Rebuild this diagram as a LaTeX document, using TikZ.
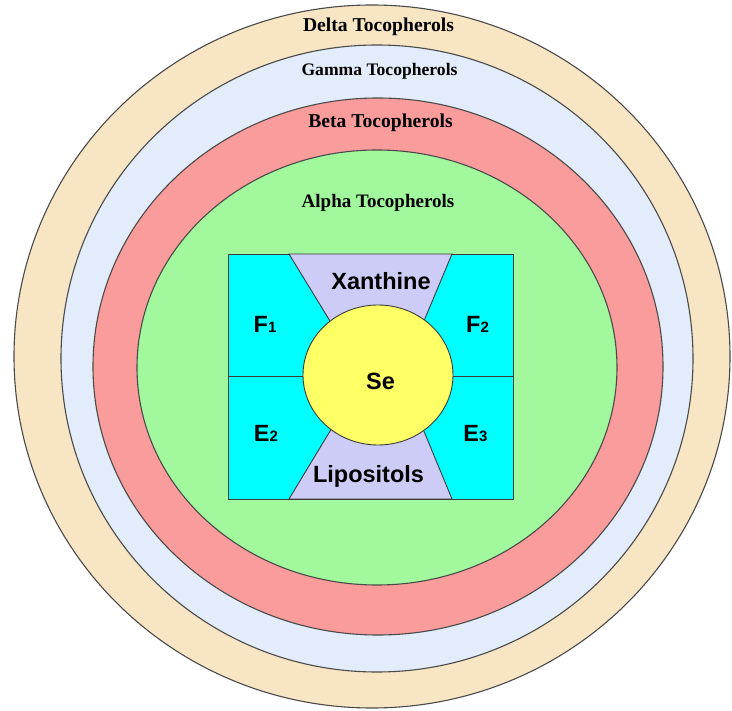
\documentclass[tikz,border=0pt]{standalone}
\usepackage{fontspec}
\setmainfont{Liberation Serif}
\newfontfamily\arialfont{Liberation Sans}
\definecolor{Tan}{HTML}{F8E5C4}
\definecolor{Frost}{HTML}{E2ECFA}
\definecolor{Rose}{HTML}{FA9C9C}
\definecolor{Mint}{HTML}{A2F89C}
\definecolor{Aqua}{HTML}{00FFFF}
\definecolor{Lilac}{HTML}{CCCCF6}
\definecolor{Lemon}{HTML}{FFFF66}
\definecolor{Edge}{HTML}{4A4A4A}
\tikzset{
  ring/.style={draw=Edge, line width=1.1pt},
  ringlabel/.style={anchor=base, font=\fontsize{19.6}{21}\selectfont\bfseries},
  cell/.style={draw=Edge!80!black, line width=0.9pt},
  celllabel/.style={anchor=base, font=\arialfont\fontsize{23.5}{25}\selectfont\bfseries}
}
\newcommand{\sub}[1]{{\fontsize{15}{15}\selectfont #1}}

\begin{document}
\begin{tikzpicture}[x=1pt,y=-1pt]
\useasboundingbox (0,0) rectangle (732,711);
\fill[white] (0,0) rectangle (732,711);
% rings, outside in
\filldraw[ring, fill=Tan] (372,356.5) ellipse [x radius=358, y radius=351.5];
\filldraw[ring, fill=Frost] (377,358.5) ellipse [x radius=316, y radius=313.5];
\filldraw[ring, fill=Rose] (378,366.5) ellipse [x radius=285, y radius=268.5];
\filldraw[ring, fill=Mint] (377,367.5) ellipse [x radius=240, y radius=217.5];
\node[ringlabel] (delta) at (378.5,32) {Delta Tocopherols};
\node[ringlabel, font=\fontsize{17.6}{19}\selectfont\bfseries] (gamma) at (379.5,76) {Gamma Tocopherols};
\node[ringlabel] (beta) at (380.5,128) {Beta Tocopherols};
\node[ringlabel, font=\fontsize{19}{21}\selectfont\bfseries] (alpha) at (378,208) {Alpha Tocopherols};
% inner box
\filldraw[cell, fill=Aqua] (228,254) rectangle (513,499);
\draw[cell] (228,376) -- (513,376);
\filldraw[cell, fill=Lilac] (289,254) -- (452,254) -- (416,340) -- (341.6,340) -- cycle;
\filldraw[cell, fill=Lilac] (289,499) -- (452,499) -- (416,412) -- (341.6,412) -- cycle;
\filldraw[cell, fill=Lemon] (378,375) ellipse [x radius=75, y radius=70];
\node[celllabel] (xan) at (381,290) {Xanthine};
\node[celllabel] (fone) at (265,333) {F\sub{1}};
\node[celllabel] (ftwo) at (477.5,333) {F\sub{2}};
\node[celllabel] (se) at (380.5,390) {Se};
\node[celllabel] (etwo) at (266,442) {E\sub{2}};
\node[celllabel] (ethree) at (475.5,442) {E\sub{3}};
\node[celllabel] (lipo) at (368.5,483) {Lipositols};
\end{tikzpicture}
\end{document}
